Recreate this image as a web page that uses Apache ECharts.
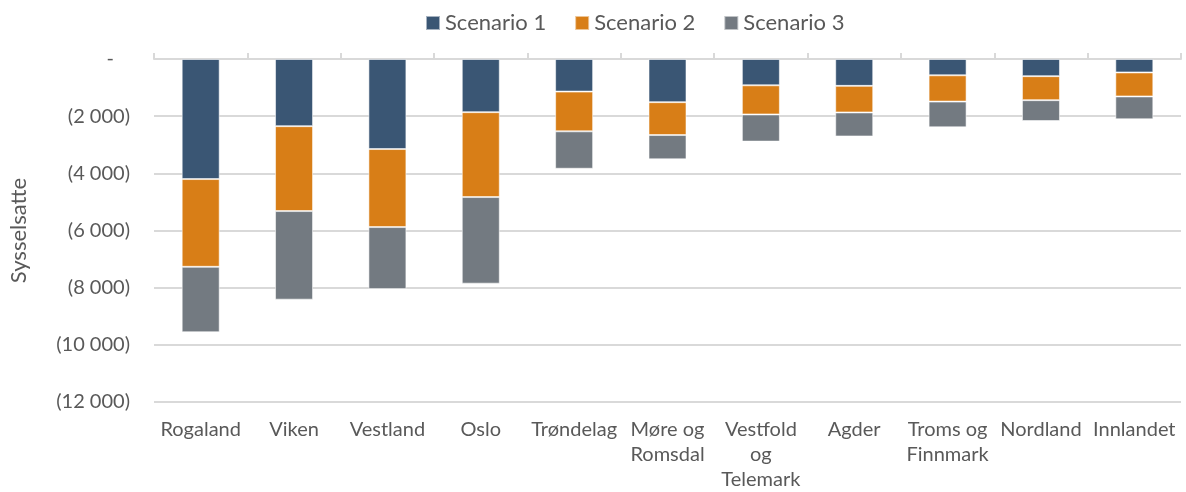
<!DOCTYPE html>
<html>
<head>
<meta charset="utf-8">
<script src="https://cdn.jsdelivr.net/npm/echarts@6/dist/echarts.min.js"></script>
<style>html,body{margin:0;padding:0;background:#fff}#c{width:1186px;height:492px}</style>
</head>
<body>
<div id="c"></div>
<script>
const categories = ['Rogaland', 'Viken', 'Vestland', 'Oslo', 'Trøndelag', 'Møre og\nRomsdal', 'Vestfold\nog\nTelemark', 'Agder', 'Troms og\nFinnmark', 'Nordland', 'Innlandet'];
const seriesNames = ['Scenario 1', 'Scenario 2', 'Scenario 3'];
const scenario1 = [-4200, -2350, -3150, -1860, -1140, -1510, -920, -940, -570, -600, -470];
const scenario2 = [-3070, -2970, -2730, -2970, -1390, -1150, -1020, -930, -920, -840, -840];
const scenario3 = [-2290, -3100, -2170, -3030, -1310, -850, -950, -840, -900, -730, -800];
const yMin = -12000, yMax = 0, yStep = 2000;
const yTitle = 'Sysselsatte';

const FONT = 'Lato';
const TXT = '#595959';
const colors = ['#3a5674', '#d87e17', '#737a81'];
const fmt = v => {
  if (v === 0) return '{d|-}';
  const s = Math.abs(v).toString().replace(/\B(?=(\d{3})+(?!\d))/g, ' ');
  return v < 0 ? '(' + s + ')' : s;
};
const chart = echarts.init(document.getElementById('c'), null, {renderer: 'canvas'});
const mk = (name, data, i) => ({
  name, type: 'bar', stack: 'total', data, barWidth: 38,
  itemStyle: {color: colors[i], borderColor: 'rgba(255,255,255,0.55)', borderWidth: 1},
  xAxisIndex: 0, yAxisIndex: 0
});
chart.setOption({
  animation: false,
  textStyle: {fontFamily: FONT},
  legend: {
    top: 7, left: 420, itemWidth: 14, itemHeight: 14, itemGap: 28,
    icon: 'rect',
    textStyle: {fontFamily: FONT, fontSize: 22, color: TXT},
    data: seriesNames
  },
  grid: {left: 150, right: 5, top: 59, bottom: 89, containLabel: false},
  xAxis: [{
    type: 'category', data: categories, position: 'bottom',
    axisLine: {show: false}, axisTick: {show: false}, splitLine: {show: false},
    axisLabel: {interval: 0, margin: 15, fontFamily: FONT, fontSize: 20, color: TXT, lineHeight: 25}
  }, {
    type: 'category', data: categories, position: 'top',
    axisLine: {show: true, onZero: false, lineStyle: {color: '#d9d9d9', width: 2}},
    axisTick: {show: true, length: 6, lineStyle: {color: '#d9d9d9', width: 2}},
    axisLabel: {show: false}, splitLine: {show: false}
  }],
  yAxis: {
    type: 'value', min: yMin, max: yMax, interval: yStep,
    name: yTitle, nameLocation: 'middle', nameGap: 124, nameRotate: 90,
    nameTextStyle: {fontFamily: FONT, fontSize: 22, color: TXT},
    axisLine: {show: false}, axisTick: {show: false},
    splitLine: {show: true, lineStyle: {color: '#d9d9d9', width: 2}},
    axisLabel: {
      margin: 24, fontFamily: FONT, fontSize: 20, color: TXT, formatter: fmt,
      rich: {d: {fontFamily: FONT, fontSize: 20, color: TXT, padding: [0, 16, 0, 0]}}
    }
  },
  series: [mk(seriesNames[0], scenario1, 0), mk(seriesNames[1], scenario2, 1), mk(seriesNames[2], scenario3, 2)]
});
</script>
</body>
</html>
